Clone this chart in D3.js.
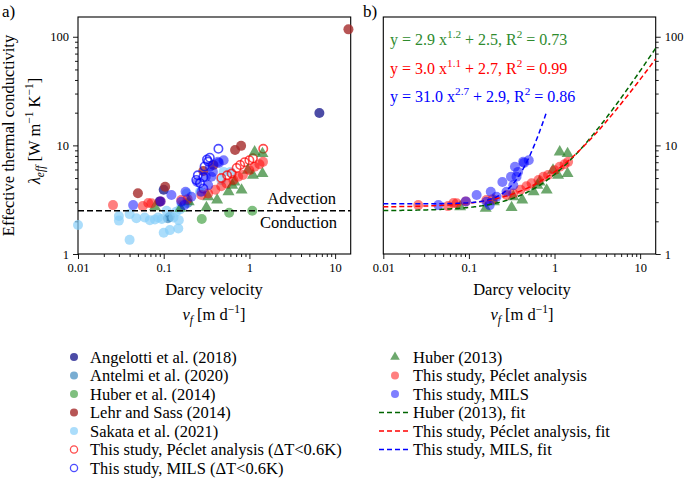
<!DOCTYPE html>
<html><head><meta charset="utf-8">
<script src="https://cdn.jsdelivr.net/npm/d3@7"></script>
<style>body{margin:0;background:#fff}svg{display:block}text{font-family:"Liberation Serif","Times New Roman",serif}</style>
</head><body><svg id="c" width="685" height="479"></svg>
<script>
// ---------- data (Darcy velocity [m/d], lambda_eff [W/m/K]) ----------
const angelotti = [[6.55,19.9],[0.1,3.9],[0.09,3.05]];
const antelmi = [[0.112,2.13],[0.118,2.2],[0.19,2.95]];
const huber2014 = [[0.278,2.1],[0.58,2.4],[1.08,2.5]];
const lehrSass = [[0.05,3.62],[0.104,4.16],[0.29,5.8],[0.38,6.6],[0.68,9.05],[0.8,9.9],[14.3,117]];
const sakata = [[0.01,1.85],[0.03,2.24],[0.03,2.03],[0.04,2.33],[0.04,1.35],[0.048,2.13],[0.06,2.17],[0.069,2.05],[0.079,2.08],[0.086,2.17],[0.095,2.1],[0.1,1.57],[0.108,2.5],[0.118,1.66],[0.13,2.17],[0.14,2.45],[0.148,1.72],[0.155,2.57],[0.15,2.05],[0.162,2.82],[0.186,3.62],[0.265,3.74],[0.47,4.8],[0.5,5.7],[0.6,5.7]];
const pecletOpen = [[0.47,5.0],[0.55,5.3],[0.62,5.5],[0.71,6.2],[0.78,6.6],[0.88,7.0],[1.0,7.3],[1.1,7.6],[1.45,9.3]];
const milsOpen = [[0.24,4.8],[0.25,5.3],[0.265,4.5],[0.29,5.1],[0.29,4.0],[0.3,6.4],[0.32,7.4],[0.33,7.1],[0.345,7.7],[0.435,9.3]];
const huber2013 = [[0.079,2.72],[0.157,2.63],[0.196,3.03],[0.315,2.67],[0.33,3.37],[0.42,3.14],[0.57,3.74],[0.63,4.3],[0.67,4.6],[0.81,3.88],[0.96,5.9],[1.1,5.3],[1.15,8.7],[1.42,5.5],[1.42,8.4]];
const peclet = [[0.0256,2.82],[0.057,2.76],[0.066,2.95],[0.072,2.93],[0.092,3.05],[0.16,3.14],[0.19,3.2],[0.275,3.49],[0.33,3.6],[0.4,3.9],[0.47,4.2],[0.54,4.47],[0.65,4.8],[0.74,5.14],[0.84,5.33],[1.0,5.9],[1.15,6.35],[1.31,6.7],[1.44,7.05]];
const mils = [[0.044,2.82],[0.092,3.05],[0.123,3.49],[0.16,3.03],[0.175,2.82],[0.18,3.74],[0.21,3.37],[0.246,4.6],[0.275,3.74],[0.31,5.14],[0.33,4.3],[0.345,6.35],[0.36,5.14],[0.375,5.7],[0.43,7.05],[0.44,6.9],[0.5,7.3]];
// fits y = a x^b + c  (from the equations printed on the chart)
const fitA = [2.9, 3.0, 31.0];
const fitB = [1.2, 1.1, 2.7];
const fitC = [2.5, 2.7, 2.9];
const fitR2 = ["0.73", "0.99", "0.86"];
const fitXmax = [15.2, 15.2, 0.8];
const xTicks = [0.01, 0.1, 1, 10];
const xTickLabels = ["0.01", "0.1", "1", "10"];
const yTicks = [1, 10, 100];
const yTickLabels = ["1", "10", "100"];
const threshold = 2.5;

// ---------- styles ----------
const FONT = '"Liberation Serif","Times New Roman",serif';
const svg = d3.select("#c");
const xDom = [0.01, 15.2], yDom = [1, 152];
const yTop = 17, yBot = 254;
const xa = d3.scaleLog().domain(xDom).range([78, 350.7]);
const xb = d3.scaleLog().domain(xDom).range([383.3, 655.7]);
const y = d3.scaleLog().domain(yDom).range([yBot, yTop]);

const minor = [];
[0.01, 0.1, 1, 10].forEach(d => { for (let k = 2; k <= 9; k++) { const v = d * k; if (v <= xDom[1]) minor.push(v); } });
const yMinor = [];
[1, 10, 100].forEach(d => { for (let k = 2; k <= 9; k++) { const v = d * k; if (v <= yDom[1]) yMinor.push(v); } });

function rich(g, x, yy, parts, size, opts = {}) {
  const t = g.append("text").attr("x", x).attr("y", yy).attr("font-size", size)
    .attr("text-anchor", opts.anchor || "start").attr("fill", opts.color || "#000");
  if (opts.transform) t.attr("transform", opts.transform);
  let shift = 0;
  parts.forEach(p => {
    const s = t.append("tspan").text(p.t);
    const target = p.sup ? -size * 0.42 : p.sub ? size * 0.22 : 0;
    if (target - shift !== 0) s.attr("dy", target - shift);
    shift = target;
    if (p.sup || p.sub) s.attr("font-size", size * 0.7);
    if (p.it) s.attr("font-style", "italic");
  });
  return t;
}

function axes(x, side) {
  const g = svg.append("g");
  const bx = g.append("g").attr("transform", `translate(0,${yBot})`)
    .call(d3.axisBottom(x).tickValues(xTicks).tickFormat((d, i) => xTickLabels[i]).tickSize(5).tickPadding(4));
  bx.select(".domain").remove();
  bx.selectAll("text").attr("font-size", 12.5).attr("font-family", FONT);
  const bm = g.append("g").attr("transform", `translate(0,${yBot})`)
    .call(d3.axisBottom(x).tickValues(minor).tickFormat("").tickSize(3));
  bm.select(".domain").remove();
  const x0 = side === "left" ? x.range()[0] : x.range()[1];
  const ax = side === "left" ? d3.axisLeft : d3.axisRight;
  const ly = g.append("g").attr("transform", `translate(${x0},0)`)
    .call(ax(y).tickValues(yTicks).tickFormat((d, i) => yTickLabels[i]).tickSize(5).tickPadding(4));
  ly.select(".domain").remove();
  ly.selectAll("text").attr("font-size", 12.5).attr("font-family", FONT);
  const lm = g.append("g").attr("transform", `translate(${x0},0)`)
    .call(ax(y).tickValues(yMinor).tickFormat("").tickSize(3));
  lm.select(".domain").remove();
  g.selectAll("line").attr("stroke", "#000").attr("stroke-width", 0.9);
  svg.append("rect").attr("x", x.range()[0]).attr("y", yTop)
    .attr("width", x.range()[1] - x.range()[0]).attr("height", yBot - yTop)
    .attr("fill", "none").attr("stroke", "#000").attr("stroke-width", 1.1);
}

const R = 5;
function circles(g, x, data, fill, op) {
  g.selectAll(null).data(data).enter().append("circle")
    .attr("cx", d => x(d[0])).attr("cy", d => y(d[1])).attr("r", R)
    .attr("fill", fill).attr("fill-opacity", op);
}
function open(g, x, data, stroke) {
  g.selectAll(null).data(data).enter().append("circle")
    .attr("cx", d => x(d[0])).attr("cy", d => y(d[1])).attr("r", R - 0.8)
    .attr("fill", "none").attr("stroke", stroke).attr("stroke-opacity", 0.7).attr("stroke-width", 1.6);
}
const tri = d3.symbol().type(d3.symbolTriangle).size(62);
function triangles(g, x, data) {
  g.selectAll(null).data(data).enter().append("path").attr("d", tri)
    .attr("transform", d => `translate(${x(d[0])},${y(d[1])})`)
    .attr("fill", "#1e7a1e").attr("fill-opacity", 0.65);
}

const C = {
  angelotti: ["#000080", 0.7], antelmi: ["#1f77b4", 0.6], huber2014: ["#008000", 0.5],
  lehr: ["#a52a2a", 0.8], sakata: ["#87cefa", 0.7], peclet: ["#ff0000", 0.5], mils: ["#0000ff", 0.5]
};

// ---------- panel a ----------
axes(xa, "left");
const ga = svg.append("g");
circles(ga, xa, angelotti, ...C.angelotti);
circles(ga, xa, antelmi, ...C.antelmi);
circles(ga, xa, huber2014, ...C.huber2014);
circles(ga, xa, lehrSass, ...C.lehr);
circles(ga, xa, sakata, ...C.sakata);
open(ga, xa, pecletOpen, "#ff0000");
open(ga, xa, milsOpen, "#0000ff");
triangles(ga, xa, huber2013);
circles(ga, xa, peclet, ...C.peclet);
circles(ga, xa, mils, ...C.mils);
ga.append("line").attr("x1", xa.range()[0]).attr("x2", xa.range()[1])
  .attr("y1", y(threshold)).attr("y2", y(threshold))
  .attr("stroke", "#000").attr("stroke-width", 1.6).attr("stroke-dasharray", "6,3");
svg.append("text").attr("x", 336).attr("y", 204).attr("text-anchor", "end").attr("font-size", 16.5).text("Advection");
svg.append("text").attr("x", 337).attr("y", 228).attr("text-anchor", "end").attr("font-size", 16.5).text("Conduction");

// ---------- panel b ----------
axes(xb, "right");
const gb = svg.append("g");
triangles(gb, xb, huber2013);
circles(gb, xb, peclet, ...C.peclet);
circles(gb, xb, mils, ...C.mils);
const fitColors = ["#006400", "#ff0000", "#0000ff"];
fitA.forEach((a, i) => {
  const xs = d3.range(0, 201).map(k => Math.pow(10, Math.log10(0.01) + k / 200 * (Math.log10(fitXmax[i]) - Math.log10(0.01))));
  const line = d3.line().x(v => xb(v)).y(v => y(a * Math.pow(v, fitB[i]) + fitC[i]));
  gb.append("path").attr("d", line(xs)).attr("fill", "none")
    .attr("stroke", fitColors[i]).attr("stroke-width", 1.5).attr("stroke-dasharray", "5,3");
});
const eqColors = ["#2e8b2e", "#ff0000", "#0000ff"];
fitA.forEach((a, i) => {
  rich(svg, 390, 45 + i * 28.5, [
    { t: `y = ${a.toFixed(1)} x` }, { t: fitB[i].toFixed(1), sup: true },
    { t: ` + ${fitC[i].toFixed(1)}, R` }, { t: "2", sup: true }, { t: ` = ${fitR2[i]}` }
  ], 16, { color: eqColors[i] });
});

// ---------- labels ----------
svg.append("text").attr("x", 2).attr("y", 17).attr("font-size", 17).text("a)");
svg.append("text").attr("x", 363).attr("y", 17).attr("font-size", 17).text("b)");
svg.append("text").attr("transform", "translate(14,135.5) rotate(-90)").attr("text-anchor", "middle")
  .attr("font-size", 16.5).text("Effective thermal conductivity");
rich(svg, 0, 0, [{ t: "λ", it: true }, { t: "eff", sub: true, it: true }, { t: " [W m" }, { t: "−1", sup: true }, { t: " K" }, { t: "−1", sup: true }, { t: "]" }],
  16.5, { anchor: "middle", transform: "translate(40,131) rotate(-90)" });
[[xa, 214, ""], [xb, 522, " "]].forEach(([x, cx, sp]) => {
  svg.append("text").attr("x", cx).attr("y", 295).attr("text-anchor", "middle").attr("font-size", 16.5).text("Darcy velocity");
  rich(svg, cx, 320, [{ t: "v", it: true }, { t: "f", sub: true, it: true }, { t: sp + " [m d" }, { t: "−1", sup: true }, { t: "]" }], 16.5, { anchor: "middle" });
});

// ---------- legend ----------
const legLeft = ["Angelotti et al. (2018)", "Antelmi et al. (2020)", "Huber et al. (2014)", "Lehr and Sass (2014)", "Sakata et al. (2021)", "This study, Péclet analysis (ΔT<0.6K)", "This study, MILS (ΔT<0.6K)"];
const legRight = ["Huber (2013)", "This study, Péclet analysis", "This study, MILS", "Huber (2013), fit", "This study, Péclet analysis, fit", "This study, MILS, fit"];
const lg = svg.append("g");
const leftStyles = [C.angelotti, C.antelmi, C.huber2014, C.lehr, C.sakata, "#ff0000", "#0000ff"];
legLeft.forEach((t, i) => {
  const yy = 357 + i * 18.5;
  const s = leftStyles[i];
  if (Array.isArray(s)) lg.append("circle").attr("cx", 74).attr("cy", yy).attr("r", 4).attr("fill", s[0]).attr("fill-opacity", s[1]);
  else lg.append("circle").attr("cx", 74).attr("cy", yy).attr("r", 3.6).attr("fill", "none").attr("stroke", s).attr("stroke-opacity", 0.7).attr("stroke-width", 1.3);
  lg.append("text").attr("x", 90).attr("y", yy + 5.5).attr("font-size", 16.5).text(t);
});
legRight.forEach((t, i) => {
  const yy = 357 + i * 18.5;
  if (i === 0) lg.append("path").attr("d", d3.symbol().type(d3.symbolTriangle).size(40)).attr("transform", `translate(395,${yy})`).attr("fill", "#1e7a1e").attr("fill-opacity", 0.65);
  else if (i < 3) { const s = i === 1 ? C.peclet : C.mils; lg.append("circle").attr("cx", 395).attr("cy", yy).attr("r", 4).attr("fill", s[0]).attr("fill-opacity", s[1]); }
  else lg.append("line").attr("x1", 379).attr("x2", 411).attr("y1", yy).attr("y2", yy).attr("stroke", fitColors[i - 3]).attr("stroke-width", 1.5).attr("stroke-dasharray", "5,3");
  lg.append("text").attr("x", 413).attr("y", yy + 5.5).attr("font-size", 16.5).text(t);
});
</script></body></html>
